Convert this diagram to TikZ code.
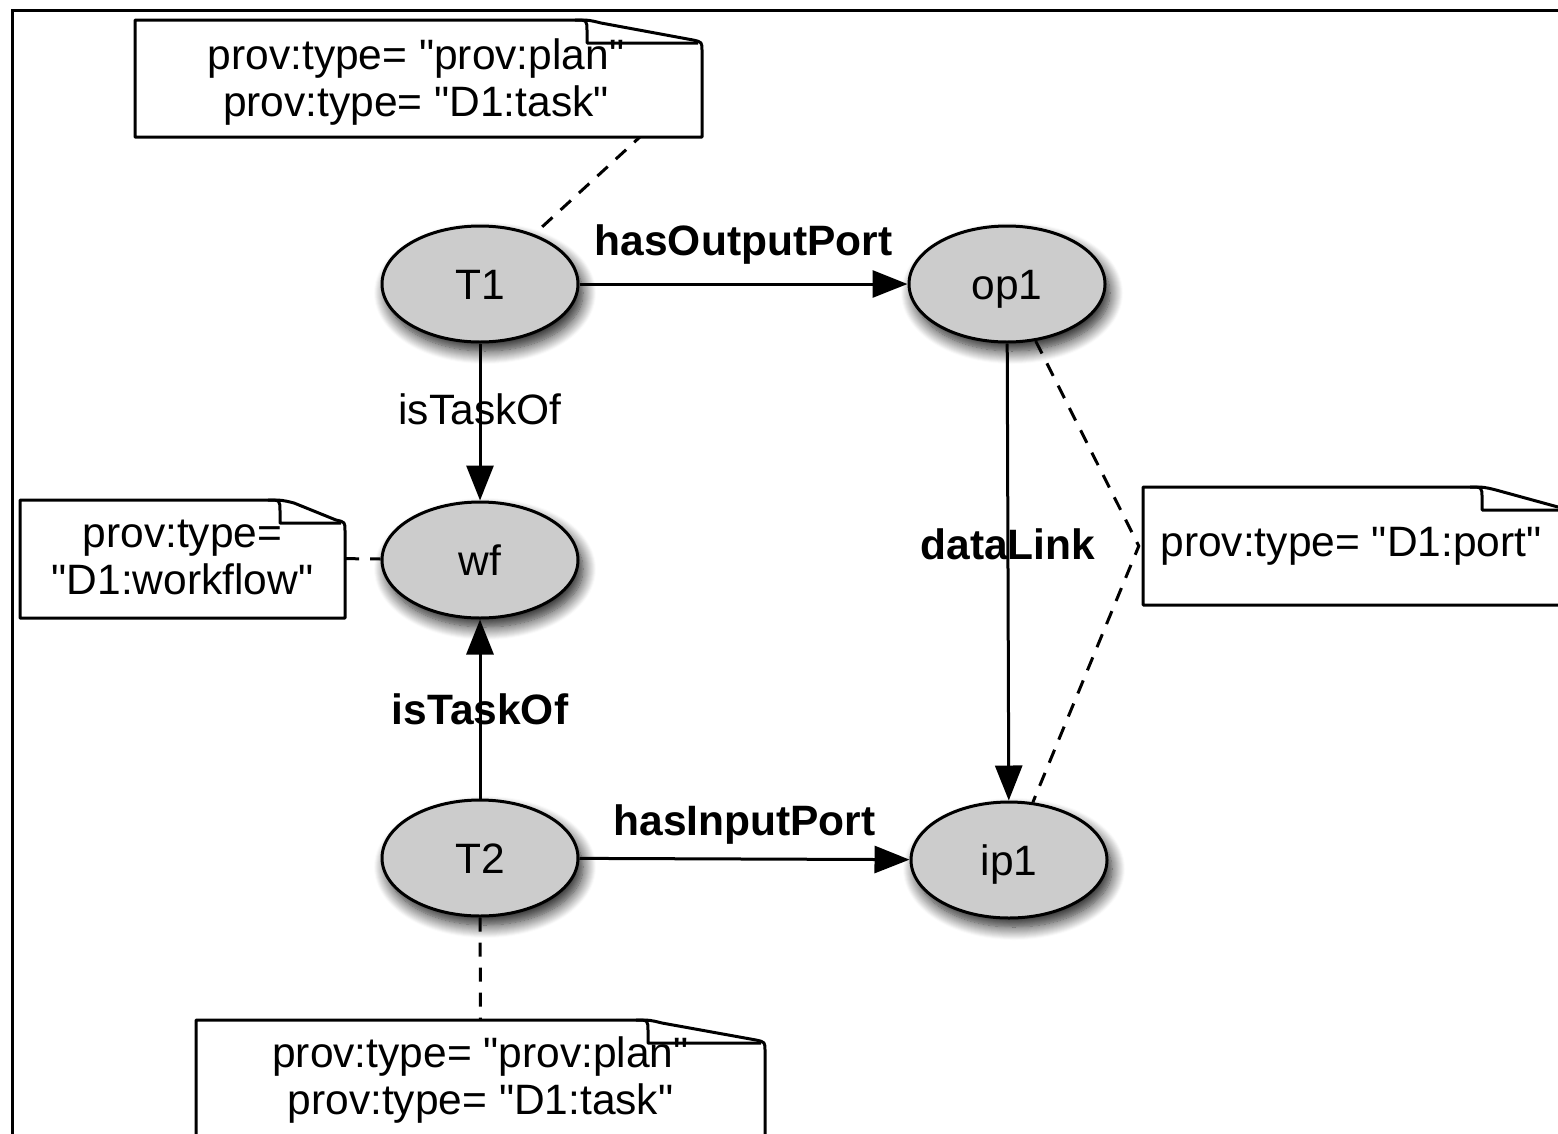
\documentclass[tikz,border=0pt]{standalone}
\usepackage{fontspec}
\setmainfont{Liberation Sans}[Ligatures=TeXOff]
\usetikzlibrary{shapes.geometric,arrows.meta,shadows.blur,backgrounds}

\newcommand\bigsize{\fontsize{42.5pt}{47pt}\selectfont}

\tikzset{
  every node/.style={font=\bigsize},
  entity/.style={ellipse, draw=black, line width=3pt, fill=entgray,
    minimum width=196pt, minimum height=116pt, inner sep=0pt,
    text height=30pt, text depth=0pt,
    blur shadow={shadow xshift=5pt, shadow yshift=-9pt,
      shadow blur radius=13pt, shadow opacity=90, shadow blur steps=14}},
  rel/.style={line width=3pt, -{Triangle[length=35pt,width=27pt]}},
  anno/.style={line width=3pt, dash pattern=on 14pt off 11pt},
  notebody/.style={line width=3pt, fill=white, line join=round},
  noteanchor/.style={inner sep=0pt, align=center},
  lbl/.style={font={\bigsize\bfseries}, inner sep=0pt},
  plainlbl/.style={inner sep=0pt},
  frameline/.style={line width=3pt},
}
\definecolor{entgray}{RGB}{204,204,204}

% note outline with a folded top-right corner:
% left, top, right, bottom, width of the fold
\newcommand\foldnote[5]{%
  \draw[notebody] (#1,#2) -- ({#3-#5-12},#2)
    .. controls ({#3-#5+2},#2) .. ({#3-#5+14},{#2+3})
    -- ({#3-9},{#2+20}) .. controls ({#3},{#2+22}) .. ({#3},{#2+31})
    -- (#3,#4) -- (#1,#4) -- cycle;
  \draw[notebody, fill=none] ({#3-#5-12},#2)
    .. controls ({#3-#5},#2) .. ({#3-#5},{#2+11})
    -- ({#3-#5},{#2+23}) -- ({#3-4},{#2+23});
}

\begin{document}
\begin{tikzpicture}[x=1pt, y=-1pt]
\useasboundingbox (0,0) rectangle (1558,1133);
\clip (0,0) rectangle (1558,1133);

% outer frame
\draw[frameline] (12,1150) -- (12,10) -- (1570,10);

% annotation notes
\foldnote{135}{20}{702}{137}{115}
\node[noteanchor, minimum width=567pt, minimum height=117pt] (n1) at (416,82)
  {prov:type= "prov:plan"\\prov:type= "D1:task"};

\foldnote{20}{500}{345}{618}{65}
\node[noteanchor, minimum width=325pt, minimum height=118pt] (n2) at (182.5,557)
  {prov:type=\\"D1:workflow"};

\foldnote{1143}{487}{1567}{605}{85}
\node[noteanchor, minimum width=424pt, minimum height=118pt] (n3) at (1351,546)
  {prov:type= "D1:port"};

\foldnote{196}{1020}{765}{1170}{117}
\node[noteanchor, minimum width=569pt] (n4) at (480.5,1080)
  {prov:type= "prov:plan"\\prov:type= "D1:task"};

% entities
\node[entity] (T1)  at (480,284)  {T1};
\node[entity] (op1) at (1007,284) {op1};
\node[entity] (wf)  at (480,560)  {wf};
\node[entity] (T2)  at (480,858)  {T2};
\node[entity] (ip1) at (1009,860) {ip1};

% relations
\draw[rel] (T1) -- (op1) node[lbl, midway, yshift=39pt] {hasOutputPort};
\draw[rel] (T1) -- (wf) node[plainlbl, pos=0.42] {isTaskOf};
\draw[rel] (T2) -- (wf) node[lbl, midway] {isTaskOf};
\draw[rel] (T2) -- (ip1) node[lbl, midway, yshift=35pt] {hasInputPort};
\draw[rel] (op1) -- (ip1) node[lbl, pos=0.44] {dataLink};

% dashed attachments of the notes
\begin{scope}[on background layer]
  \draw[anno] (n1.east) -- (T1);
  \draw[anno] (n2) -- (wf);
  \draw[anno] (op1) -- (n3.west) -- (ip1);
  \draw[anno] (T2) -- (n4);
\end{scope}
\end{tikzpicture}
\end{document}
